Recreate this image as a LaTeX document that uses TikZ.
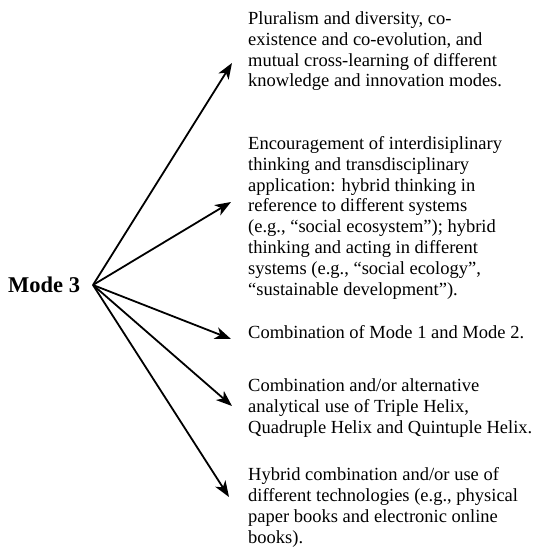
\documentclass[tikz,border=0pt]{standalone}
\usepackage{fontspec}
\setmainfont{Liberation Serif}
\usetikzlibrary{arrows.meta}
\tikzset{
  txt/.style={anchor=base west, align=left, inner sep=0pt, font={\fontsize{18.5}{20.8}\selectfont}},
  arr/.style={line width=1.8pt, -{Stealth[length=16pt, width=12pt, inset=4.5pt]}},
}
\begin{document}
\begin{tikzpicture}[x=1pt,y=-1pt]
\useasboundingbox (0,0) rectangle (534,548);
\node[anchor=base west, inner sep=0pt, font={\fontsize{22.5}{27}\selectfont\bfseries}] (mode) at (8,292) {Mode 3};
\coordinate (o) at (93,285);
% anchor base west of a multi-line node = baseline of its last line
\node[txt] (t1) at (248,87) {Pluralism and diversity, co-\\existence and co-evolution, and\\mutual cross-learning of different\\knowledge and innovation modes.};
\node[txt] (t2) at (248,295) {Encouragement of interdisiplinary\\thinking and transdisciplinary\\application: hybrid thinking in\\reference to different systems\\(e.g., ``social ecosystem''); hybrid\\thinking and acting in different\\systems (e.g., ``social ecology'',\\``sustainable development'').};
\node[txt] (t3) at (248,338) {Combination of Mode 1 and Mode 2.};
\node[txt] (t4) at (248,433) {Combination and/or alternative\\analytical use of Triple Helix,\\Quadruple Helix and Quintuple Helix.};
\node[txt] (t5) at (248,543) {Hybrid combination and/or use of\\different technologies (e.g., physical\\paper books and electronic online\\books).};
\coordinate (e1) at (232,63);
\coordinate (e2) at (231,202);
\coordinate (e3) at (231,339);
\coordinate (e4) at (232,406);
\coordinate (e5) at (229,497);
\foreach \e in {e1,e2,e3,e4,e5} \draw[arr] (o) -- (\e);
\end{tikzpicture}
\end{document}
